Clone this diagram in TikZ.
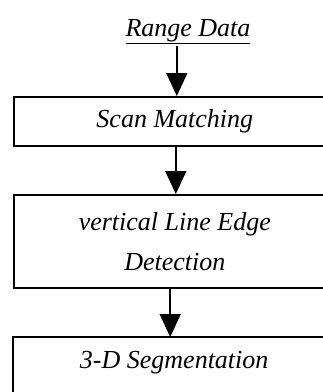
\documentclass[tikz,border=0pt]{standalone}
\usepackage{fontspec}
\setmainfont{Liberation Serif}
\usetikzlibrary{arrows.meta}
\tikzset{
  lbl/.style={font=\fontsize{26}{40}\selectfont\itshape, align=center, inner sep=0pt},
  stepbox/.style={lbl, draw, line width=1.6pt, minimum width=322pt, anchor=north west},
  arr/.style={line width=1.6pt, -{Triangle[width=21pt,length=23pt]}}
}
\begin{document}
\begin{tikzpicture}[x=1pt,y=-1pt]
\path[use as bounding box, clip] (0,0) rectangle (323,392);
\node[lbl, anchor=base, inner sep=1pt] (range) at (188,36) {\underline{Range Data}};
\node[stepbox, minimum height=49pt] (box1) at (13,96) {Scan Matching};
\node[stepbox, minimum height=93pt] (box2) at (13,194) {vertical Line Edge\\Detection};
\node[lbl, minimum width=322pt, minimum height=50pt, anchor=north west] (box3) at (13,337) {3-D Segmentation};
\draw[line width=1.6pt] ([yshift=-20pt]box3.south west) -- (box3.north west) -- (box3.north east);
\coordinate (t1) at ([xshift=2pt]box1.north);
\coordinate (t2) at ([xshift=1pt]box2.north);
\coordinate (t3) at ([xshift=-4pt]box3.north);
\draw[arr] ([yshift=-1pt]range.south -| t1) -- (t1);
\draw[arr] (box1.south -| t2) -- (t2);
\draw[arr] (box2.south -| t3) -- (t3);
\end{tikzpicture}
\end{document}
